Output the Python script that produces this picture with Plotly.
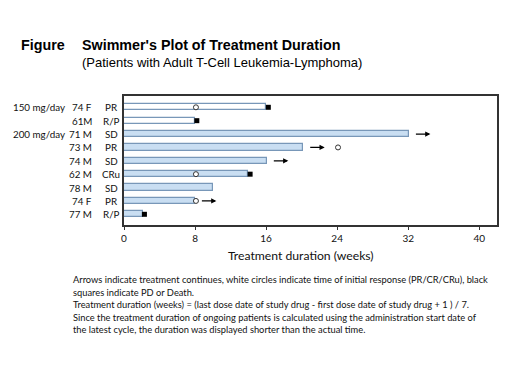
import plotly.graph_objects as go

# ---- data ----
dose = ["150 mg/day", "", "200 mg/day", "", "", "", "", "", ""]
patients = ["74 F", "61M", "71 M", "73 M", "74 M", "62 M", "78 M", "74 F", "77 M"]
response = ["PR", "R/P", "SD", "PR", "SD", "CRu", "SD", "PR", "R/P"]
duration = [16.0, 8.0, 32.1, 20.2, 16.1, 14.0, 10.0, 8.0, 2.1]
dose_group = [150, 150, 200, 200, 200, 200, 200, 200, 200]
response_week = [8.1, None, None, 24.1, None, 8.1, None, 8.1, None]
pd_week = [16.25, 8.2, None, None, None, 14.2, None, None, 2.3]
ongoing = [False, False, True, True, True, False, False, True, False]
x_ticks = [0, 8, 16, 24, 32, 40]

footnote = [
    "Arrows indicate treatment continues, white circles indicate time of initial response (PR/CR/CRu), black",
    "squares indicate PD or Death.",
    "Treatment duration (weeks) = (last dose date of study drug - first dose date of study drug + 1 ) / 7.",
    "Since the treatment duration of ongoing patients is calculated using the administration start date of",
    "the latest cycle, the duration was displayed shorter than the actual time.",
]

rows = list(range(len(patients)))

# page body margin offset compensation
OFF = 8
W, H = 520 - OFF, 390 - OFF
PL, PR_, PT, PB = 124, 496.7, 96, 225   # target plot box in page pixels
L = PL - OFF
T = PT - OFF
R = W - (PR_ - OFF)
B = H - (PB - OFF)
PW = PR_ - PL
PH = PB - PT


def px(X):
    return (X - PL) / PW


def py(Y):
    return (PB - Y) / PH


LAB_FONT = "Lato, Carlito, Calibri, sans-serif"

fig = go.Figure()

fill = ["#ffffff" if d == 150 else "#c9def2" for d in dose_group]
fig.add_trace(go.Bar(
    x=duration, y=rows, orientation="h", width=0.46,
    marker=dict(color=fill, line=dict(color="#7897b8", width=1.2)),
    hoverinfo="skip", showlegend=False,
))

sq_x = [v for v in pd_week if v is not None]
sq_y = [r for r, v in zip(rows, pd_week) if v is not None]
fig.add_trace(go.Scatter(
    x=sq_x, y=sq_y, mode="markers",
    marker=dict(symbol="square", size=5, color="black"),
    showlegend=False, hoverinfo="skip",
))

c_x = [v for v in response_week if v is not None]
c_y = [r for r, v in zip(rows, response_week) if v is not None]
fig.add_trace(go.Scatter(
    x=c_x, y=c_y, mode="markers",
    marker=dict(symbol="circle", size=5, color="white", line=dict(color="#333333", width=1)),
    showlegend=False, hoverinfo="skip",
))

annotations = []
for r, d, o in zip(rows, duration, ongoing):
    if o:
        annotations.append(dict(
            x=d + 2.4, y=r, ax=d + 0.6, ay=r, xref="x", yref="y", axref="x", ayref="y",
            showarrow=True, arrowhead=2, arrowsize=0.8, arrowwidth=1.3, arrowcolor="black", text="",
        ))

LF = dict(family=LAB_FONT, size=9.8, color="#111")
for r, ds, p, rs in zip(rows, dose, patients, response):
    if ds:
        annotations.append(dict(x=px(67), y=r, xref="paper", yref="y", text=ds, showarrow=False,
                                xanchor="right", font=LF))
    annotations.append(dict(x=px(94.5), y=r, xref="paper", yref="y", text=p, showarrow=False,
                            xanchor="right", font=LF))
    annotations.append(dict(x=px(111.5), y=r, xref="paper", yref="y", text=rs, showarrow=False,
                            xanchor="center", font=LF))

TF = "Liberation Sans, Arial, sans-serif"
annotations.append(dict(x=px(19), y=py(45.5), xref="paper", yref="paper", text="<b>Figure</b>", showarrow=False,
                        xanchor="left", yanchor="middle", font=dict(family=TF, size=14.3, color="black")))
annotations.append(dict(x=px(80.5), y=py(45.5), xref="paper", yref="paper",
                        text="<b>Swimmer's Plot of Treatment Duration</b>", showarrow=False,
                        xanchor="left", yanchor="middle", font=dict(family=TF, size=14.3, color="black")))
annotations.append(dict(x=px(80.5), y=py(62), xref="paper", yref="paper",
                        text="(Patients with Adult T-Cell Leukemia-Lymphoma)", showarrow=False,
                        xanchor="left", yanchor="middle", font=dict(family=TF, size=13, color="black")))

annotations.append(dict(x=px(301), y=py(255), xref="paper", yref="paper",
                        text="Treatment duration (weeks)", showarrow=False,
                        xanchor="center", yanchor="middle", font=dict(family=LAB_FONT, size=12.2, color="#111")))

for i, line in enumerate(footnote):
    annotations.append(dict(x=px(71.5), y=py(279.5 + 12.6 * i), xref="paper", yref="paper",
                            text=line, showarrow=False, xanchor="left", yanchor="middle",
                            font=dict(family=LAB_FONT, size=9.3, color="#111")))

fig.update_layout(
    width=W, height=H, margin=dict(l=L, r=R, t=T, b=B, autoexpand=False),
    paper_bgcolor="white", plot_bgcolor="white",
    annotations=annotations, bargap=0,
    xaxis=dict(range=[0, 42], tickvals=x_ticks, ticks="outside", ticklen=3, tickcolor="#333",
               showline=True, mirror=True, linecolor="#333", linewidth=1.6, showgrid=False, zeroline=False,
               tickfont=dict(family=LAB_FONT, size=10, color="#111")),
    yaxis=dict(range=[8.8, -0.845], showticklabels=False, ticks="", showline=True, mirror=True,
               linecolor="#333", linewidth=1.6, showgrid=False, zeroline=False),
)

fig.write_html("out.html")
